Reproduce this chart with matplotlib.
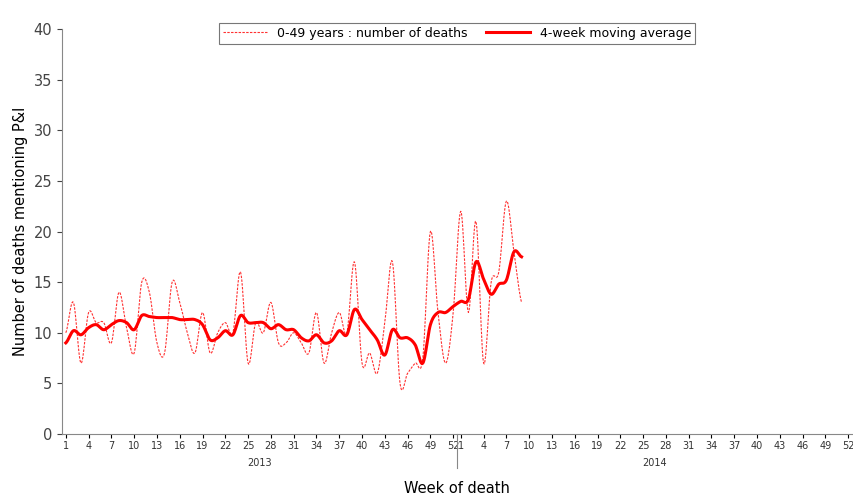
import numpy as np
import matplotlib.pyplot as plt

deaths = [10, 13, 7, 12, 11, 11, 9, 14, 10.5, 8, 15, 14, 9, 8, 15, 13, 10, 8, 12, 8,
          10, 11, 10, 16, 7, 11, 10, 13, 9, 9, 10, 9, 8, 12, 7, 10, 12, 10, 17, 7,
          8, 6, 11, 17, 5, 6, 7, 7.5, 20, 12, 7, 12,
          22, 12, 21, 7, 15, 16, 23, 18, 13]
moving_avg = [9, 10.2, 9.8, 10.5, 10.8, 10.3, 10.8, 11.2, 11, 10.3, 11.7, 11.6, 11.5, 11.5, 11.5, 11.3,
              11.3, 11.3, 10.8, 9.3, 9.5, 10.2, 9.8, 11.7, 11, 11, 11, 10.4, 10.8, 10.3, 10.3, 9.5,
              9.2, 9.8, 9, 9.2, 10.2, 9.8, 12.3, 11.3, 10.3, 9.3, 7.8, 10.3, 9.5, 9.5, 8.8, 7,
              10.8, 12, 12, 12.6, 13.1, 13.3, 17, 15.3, 13.8, 14.8, 15.2, 18, 17.5]
weeks_per_year = 52
years = ['2013', '2014']


def smooth(y, n=12):
    # Catmull-Rom curve through the points, like Excel's smoothed line
    y = np.asarray(y, float)
    p = np.concatenate([[y[0]], y, [y[-1]]])
    xs, ys = [], []
    for i in range(len(y) - 1):
        t = np.linspace(0, 1, n, endpoint=False)
        p0, p1, p2, p3 = p[i], p[i + 1], p[i + 2], p[i + 3]
        ys.append(0.5 * (2 * p1 + (-p0 + p2) * t + (2 * p0 - 5 * p1 + 4 * p2 - p3) * t**2
                         + (-p0 + 3 * p1 - 3 * p2 + p3) * t**3))
        xs.append(i + t)
    xs.append([len(y) - 1])
    ys.append([y[-1]])
    return np.concatenate(xs), np.concatenate(ys)


fig = plt.figure(figsize=(8.54, 4.98), dpi=100)
ax = fig.add_axes([62 / 854, 64 / 498, 790 / 854, 405 / 498])

x1, y1 = smooth(deaths)
x2, y2 = smooth(moving_avg)
ax.plot(x1, y1, color='#ff3030', ls=(0, (2.2, 1.2)), lw=0.8, label='0-49 years : number of deaths')
ax.plot(x2, y2, color='red', lw=2.2, label='4-week moving average')

ax.set_xlim(-0.5, 2 * weeks_per_year - 0.5)
ax.set_ylim(0, 40)
ax.set_yticks(range(0, 41, 5))
ticks = [t for t in range(0, 52, 3)] + [52 + t for t in range(0, 52, 3)]
labels = [str(t % 52 + 1) for t in ticks]
ax.set_xticks(ticks)
ax.set_xticklabels(labels, fontsize=7, color='#333333')
ax.tick_params(axis='y', labelsize=10.5, colors='#444444')
ax.tick_params(axis='x', length=3, pad=2)
for s in ['top', 'right']:
    ax.spines[s].set_visible(False)
for s in ['left', 'bottom']:
    ax.spines[s].set_color('#888888')

ax.axvline(51.5, ymin=-0.085, ymax=0, color='#888888', lw=0.8, clip_on=False)
for i, yr in enumerate(years):
    ax.text(i * 52 + 25.5, -0.072, yr, transform=ax.get_xaxis_transform(),
            ha='center', va='center', fontsize=7, color='#333333')

ax.set_ylabel('Number of deaths mentioning P&I', fontsize=10.5)
ax.text(0.5, -0.135, 'Week of death', transform=ax.transAxes, ha='center', va='center', fontsize=10.5)
leg = ax.legend(loc='upper center', bbox_to_anchor=(0.5, 1.03), ncol=2, fontsize=9,
                frameon=True, fancybox=False, edgecolor='#555555', handlelength=3.5,
                columnspacing=1.5, borderpad=0.3)
leg.get_frame().set_linewidth(0.8)

fig.savefig('out.png', dpi=100)
